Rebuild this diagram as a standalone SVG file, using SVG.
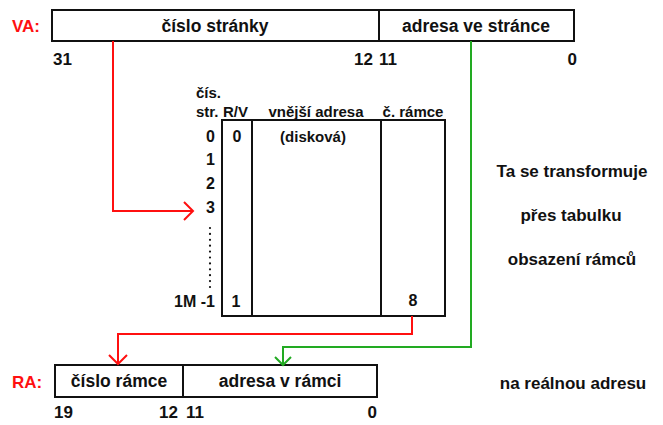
<svg xmlns="http://www.w3.org/2000/svg" width="663" height="425" viewBox="0 0 663 425">
<style>
text{font-family:"Liberation Sans",Arial,sans-serif;font-weight:bold;fill:#111}
.big{font-size:17.5px}
.num{font-size:17px}
.tb{font-size:15px}
.tn{font-size:16px}
.lbl{font-size:17px;fill:#ff1010}
.box{fill:#fff;stroke:#111;stroke-width:2}
.div{stroke:#111;stroke-width:2}
.red{fill:none;stroke:#ff1010;stroke-width:2}
.grn{fill:none;stroke:#22aa22;stroke-width:2}
.mid{text-anchor:middle}
.end{text-anchor:end}
</style>
<defs>
<marker id="ar" markerUnits="userSpaceOnUse" markerWidth="22" markerHeight="22" viewBox="-11 -11 22 22" refX="0" refY="0" orient="auto" overflow="visible">
<path d="M-9,-9 L0,0 L-9,9" fill="none" stroke="#ff1010" stroke-width="2"/>
</marker>
<marker id="ag" markerUnits="userSpaceOnUse" markerWidth="22" markerHeight="22" viewBox="-11 -11 22 22" refX="0" refY="0" orient="auto" overflow="visible">
<path d="M-8,-8 L0,0 L-8,8" fill="none" stroke="#22aa22" stroke-width="2"/>
</marker>
</defs>

<g id="va">
<text class="lbl" x="12" y="32">VA:</text>
<rect class="box" x="52" y="10" width="522" height="31"/>
<line class="div" x1="379" y1="10" x2="379" y2="41"/>
<text class="big mid" x="215" y="32">číslo stránky</text>
<text class="big mid" x="476" y="32">adresa ve stránce</text>
<text class="num" x="53" y="65">31</text>
<text class="num end" x="373" y="65">12</text>
<text class="num" x="379" y="65">11</text>
<text class="num end" x="577" y="65">0</text>
</g>

<g id="table">
<rect class="box" x="222" y="120" width="223" height="196"/>
<line class="div" x1="252" y1="120" x2="252" y2="316"/>
<line class="div" x1="381" y1="120" x2="381" y2="316"/>
<text class="tb" x="196" y="98">čís.</text>
<text class="tb" x="196" y="117">str.</text>
<text class="tb" x="223" y="117">R/V</text>
<text class="tb mid" x="316" y="117">vnější adresa</text>
<text class="tb mid" x="413" y="117">č. rámce</text>
<text class="tn end" x="215" y="142">0</text>
<text class="tn end" x="215" y="165">1</text>
<text class="tn end" x="215" y="189">2</text>
<text class="tn end" x="215" y="213">3</text>
<line x1="210" y1="228" x2="210" y2="287" stroke="#111" stroke-width="2.2" stroke-linecap="round" stroke-dasharray="0 5.9"/>
<text class="tn end" x="215" y="307">1M -1</text>
<text class="tn mid" x="237" y="142">0</text>
<text class="tb mid" x="313" y="142">(disková)</text>
<text class="tn mid" x="236" y="307">1</text>
<text class="tn mid" x="413" y="306">8</text>
</g>

<g id="ra">
<text class="lbl" x="12" y="388">RA:</text>
<rect class="box" x="55" y="365" width="322" height="32"/>
<line class="div" x1="183" y1="365" x2="183" y2="397"/>
<text class="big mid" x="119" y="387">číslo rámce</text>
<text class="big mid" x="280" y="387">adresa v rámci</text>
<text class="num" x="54" y="418">19</text>
<text class="num end" x="178" y="418">12</text>
<text class="num" x="186" y="418">11</text>
<text class="num end" x="377" y="418">0</text>
</g>

<g id="notes">
<text class="num mid" x="572" y="177">Ta se transformuje</text>
<text class="num mid" x="571" y="221">přes tabulku</text>
<text class="num mid" x="572" y="265">obsazení rámců</text>
<text class="num mid" x="573" y="389">na reálnou adresu</text>
</g>

<g id="connectors">
<polyline class="red" points="113,41 113,211 193,211" marker-end="url(#ar)"/>
<polyline class="red" points="412,316 412,334 118,334 118,364" marker-end="url(#ar)"/>
<polyline class="grn" points="471,41 471,347 283,347 283,365" marker-end="url(#ag)"/>
</g>
</svg>
